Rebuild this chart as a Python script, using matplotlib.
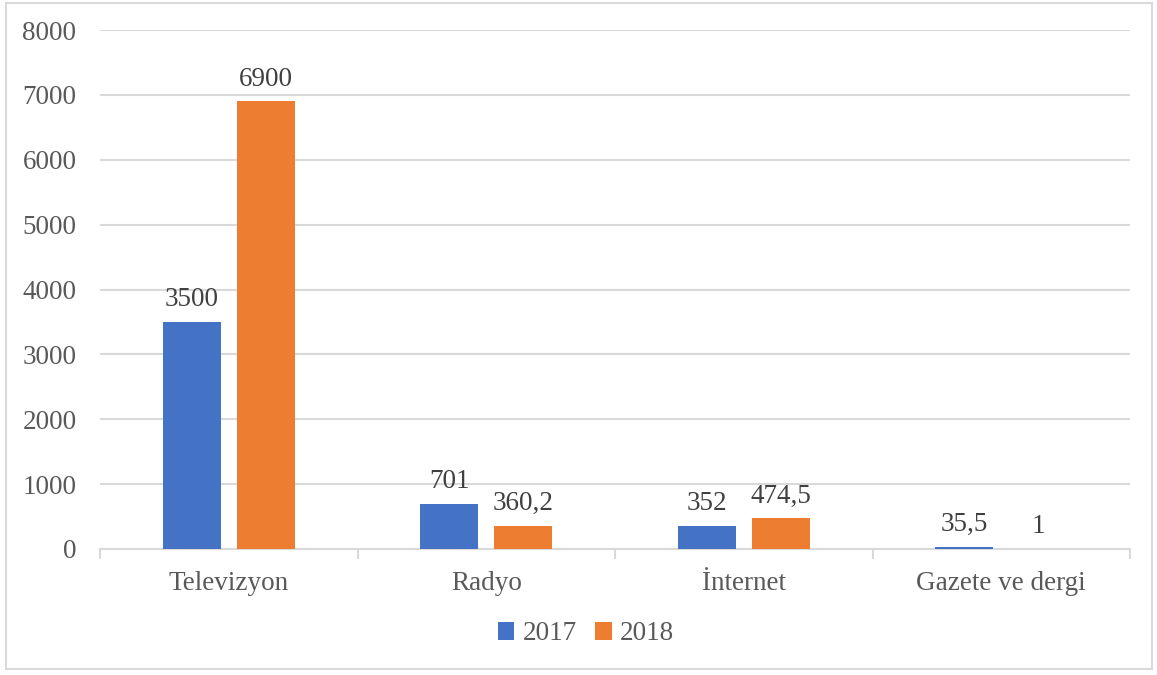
import matplotlib
matplotlib.use("Agg")
import matplotlib.pyplot as plt
from matplotlib.patches import Rectangle
import numpy as np

categories = ["Televizyon", "Radyo", "İnternet", "Gazete ve dergi"]
values_2017 = [3500, 701, 352, 35.5]
values_2018 = [6900, 360.2, 474.5, 1]
labels_2017 = ["3500", "701", "352", "35,5"]
labels_2018 = ["6900", "360,2", "474,5", "1"]
series_names = ["2017", "2018"]
y_ticks = [0, 1000, 2000, 3000, 4000, 5000, 6000, 7000, 8000]

BLUE = "#4472C4"
ORANGE = "#ED7D31"
GRID = "#D9D9D9"
TICK_TXT = "#595959"
LABEL_TXT = "#404040"
FS = 19.5

plt.rcParams["font.family"] = ["Liberation Serif", "DejaVu Serif"]

fig = plt.figure(figsize=(11.57, 6.75), dpi=100)
ax = fig.add_axes([100 / 1157, 1 - 549 / 675, 1030 / 1157, 519 / 675])

x = np.arange(len(categories))
width = 0.225
offset = 0.143

b1 = ax.bar(x - offset, values_2017, width, color=BLUE, label=series_names[0], zorder=3)
b2 = ax.bar(x + offset, values_2018, width, color=ORANGE, label=series_names[1], zorder=3)

for bars, labs in ((b1, labels_2017), (b2, labels_2018)):
    for rect, lab in zip(bars, labs):
        ax.annotate(lab, (rect.get_x() + rect.get_width() / 2, rect.get_height()),
                    xytext=(0, 7), textcoords="offset points",
                    ha="center", va="bottom", fontsize=FS, color=LABEL_TXT)

ax.set_xlim(-0.5, len(categories) - 0.5)
ax.set_ylim(0, 8000)
ax.set_yticks(y_ticks)
ax.set_yticklabels([str(t) for t in y_ticks])
ax.yaxis.grid(True, color=GRID, linewidth=1.5, zorder=0)
ax.set_axisbelow(True)

ax.set_xticks(x)
ax.set_xticklabels(categories)
ax.set_xticks(np.arange(-0.5, len(categories), 1.0), minor=True)
ax.tick_params(axis="x", which="major", length=0, pad=16, labelsize=FS, labelcolor=TICK_TXT)
ax.tick_params(axis="x", which="minor", length=7, width=1.5, color=GRID)
ax.tick_params(axis="y", length=0, pad=17, labelsize=FS, labelcolor=TICK_TXT)

for side in ("top", "right", "left"):
    ax.spines[side].set_visible(False)
ax.spines["bottom"].set_color(GRID)
ax.spines["bottom"].set_linewidth(1.5)

leg = fig.legend(handles=[b1, b2], labels=series_names, loc="center",
                 bbox_to_anchor=(586 / 1157, 1 - 634 / 675), ncol=2, frameon=False,
                 fontsize=FS, handlelength=0.6, handleheight=0.6, handletextpad=0.3,
                 columnspacing=0.7)
for t in leg.get_texts():
    t.set_color(TICK_TXT)

fig.patches.append(Rectangle((6 / 1157, 1 - 669 / 675), 1146 / 1157, 666 / 675,
                             transform=fig.transFigure, fill=False,
                             edgecolor=GRID, linewidth=1.5))

fig.savefig("out.png", dpi=100)
